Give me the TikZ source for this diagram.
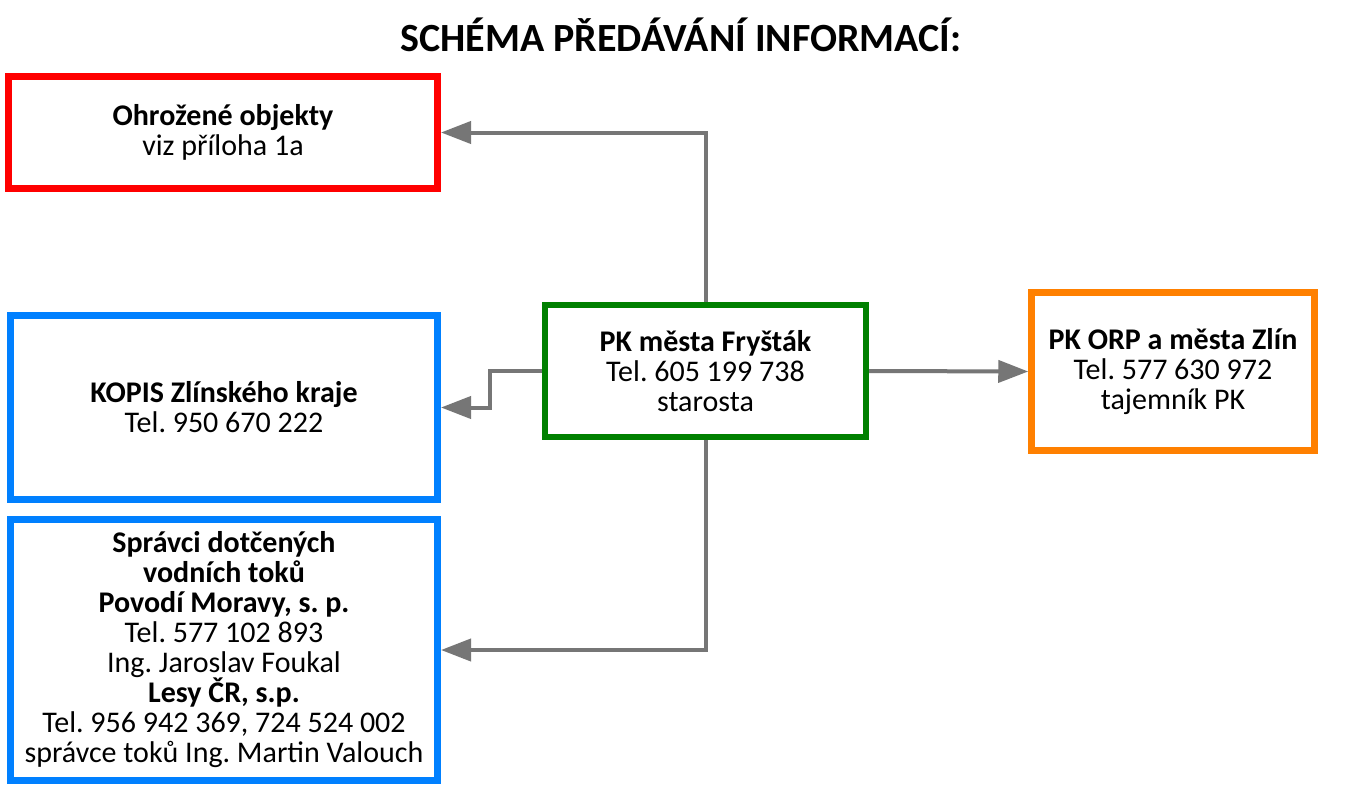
\documentclass[tikz,border=0pt]{standalone}
\usepackage{fontspec}
\setmainfont{Carlito}
\frenchspacing
\usetikzlibrary{arrows.meta}
\definecolor{cred}{RGB}{255,0,0}
\definecolor{cblue}{RGB}{0,128,255}
\definecolor{cgreen}{RGB}{0,128,0}
\definecolor{corange}{RGB}{255,128,0}
\definecolor{cgray}{RGB}{118,118,118}
\begin{document}
\begin{tikzpicture}[x=1pt,y=-1pt,
  box/.style={draw, rectangle, fill=white, align=center, inner sep=0pt,
    font=\fontsize{30}{30}\selectfont, line width=7pt},
  conn/.style={draw=cgray, line width=4pt, -{Triangle[length=30pt,width=22pt]}}]
\useasboundingbox[fill=white] (0,0) rectangle (1360,787);
\node (title) at (681,35) {\fontsize{40}{42}\selectfont\bfseries SCHÉMA PŘEDÁVÁNÍ INFORMACÍ:};
\node[box, draw=cred, minimum width=429pt, minimum height=112pt] (red) at (223,132.5)
  {\textbf{Ohrožené objekty}\\viz příloha 1a};
\node[box, draw=cblue, minimum width=427pt, minimum height=184pt] (kopis) at (224,407.5)
  {\textbf{KOPIS Zlínského kraje}\\Tel. 950 670 222};
\node[box, draw=cblue, minimum width=427pt, minimum height=261pt] (spravci) at (224,650)
  {\textbf{Správci dotčených}\\\textbf{vodních toků}\\\textbf{Povodí Moravy, s. p.}\\Tel. 577 102 893\\Ing. Jaroslav Foukal\\\textbf{Lesy ČR, s.p.}\\Tel. 956 942 369, 724 524 002\\správce toků Ing. Martin Valouch};
\node[box, draw=cgreen, line width=6pt, minimum width=321pt, minimum height=132pt] (green) at (705.5,371)
  {\textbf{PK města Fryšták}\\Tel. 605 199 738\\starosta};
\node[box, draw=corange, line width=6.5pt, minimum width=283pt, minimum height=158pt] (orange) at (1173,371.5)
  {\textbf{PK ORP a města Zlín}\\Tel. 577 630 972\\tajemník PK};
\draw[conn] (green.north) |- (red.east);
\draw[conn] (green.west) -- ++(-52,0) |- (kopis.east);
\draw[conn] (green.south) |- (spravci.east);
\draw[conn] (green.east) -- (orange.west);
\end{tikzpicture}
\end{document}
